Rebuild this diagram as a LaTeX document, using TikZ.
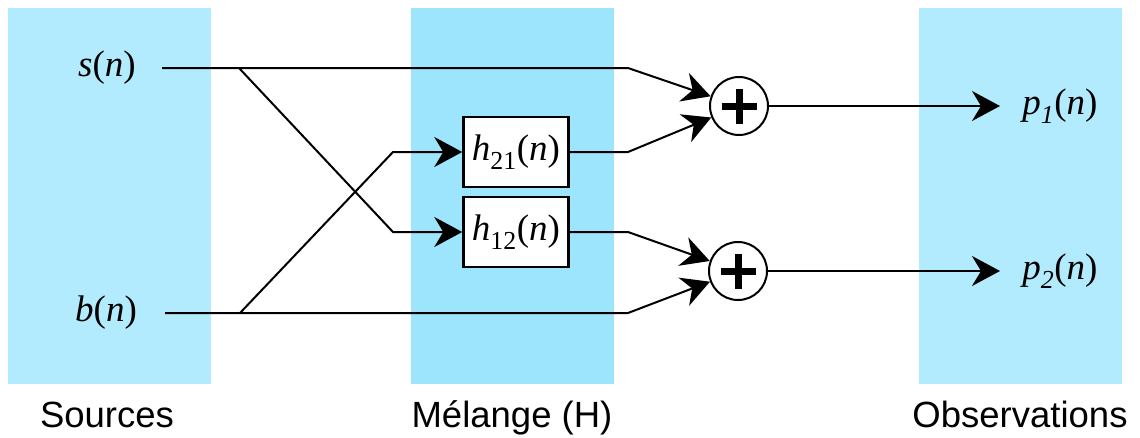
\documentclass[tikz,border=0pt]{standalone}
\usepackage{fontspec}
\setmainfont{Liberation Serif}
\setsansfont{Liberation Sans}
\usetikzlibrary{arrows.meta}

\definecolor{srcblue}{RGB}{178,235,253}
\definecolor{mixblue}{RGB}{156,229,252}

\begin{document}
\begin{tikzpicture}[x=1pt,y=-1pt,line width=2pt,
		fleche/.style={-{Stealth[length=28pt,width=30pt,inset=9pt]}},
		bande/.style={minimum width=203pt,minimum height=376pt,inner sep=0pt},
		filtre/.style={draw,fill=white,line width=2.5pt,minimum width=105pt,minimum height=70pt,inner sep=0pt},
		somme/.style={draw,fill=white,circle,minimum size=58pt,inner sep=0pt},
		signal/.style={font=\fontsize{37}{42}\selectfont},
		titre/.style={font=\sffamily\fontsize{36.5}{42}\selectfont,anchor=base}]
		\useasboundingbox (0,0) rectangle (1140,437);

		% bandes de fond
		\node[bande,fill=srcblue] (sources) at (109.5,196) {};
		\node[bande,fill=mixblue] (melange) at (512,196) {};
		\node[bande,fill=srcblue] (observ) at (1020.5,196) {};
		\node[titre] (tsources) at (107,427) {Sources};
		\node[titre] (tmelange) at (512,427) {Mélange (H)};
		\node[titre] (tobserv) at (1020,427) {Observations};

		% signaux
		\node[signal] (s) at (107,68) {\textit{s}(\textit{n})};
		\node[signal] (b) at (106,313) {\textit{b}(\textit{n})};
		\node[signal] (p1) at (1060,106) {\textit{p}\textsubscript{\itshape 1}(\textit{n})};
		\node[signal] (p2) at (1060,271) {\textit{p}\textsubscript{\itshape 2}(\textit{n})};

		% filtres et sommateurs
		\node[filtre,signal] (h21) at (516,152) {\textit{h}\textsubscript{21}(\textit{n})};
		\node[filtre,signal] (h12) at (516,232) {\textit{h}\textsubscript{12}(\textit{n})};
		\node[somme] (sum1) at (739,106) {};
		\node[somme] (sum2) at (738,271) {};
		\foreach \n in {sum1,sum2} {
			\draw[line width=7pt] ([xshift=-17.5pt]\n.center) -- ([xshift=17.5pt]\n.center);
			\draw[line width=7pt] ([yshift=-17.5pt]\n.center) -- ([yshift=17.5pt]\n.center);
		}

		% points de passage
		\coordinate (s0) at (162,68);
		\coordinate (b0) at (165,313);
		\coordinate (sj) at (239,68);
		\coordinate (bj) at (240,313);
		\coordinate (c21) at (393,152);
		\coordinate (c12) at (393,232);
		\coordinate (sk) at (628,68);
		\coordinate (bk) at (628,313);
		\coordinate (h21k) at (628,152);
		\coordinate (h12k) at (628,232);
		\coordinate (out1) at (1000,106);
		\coordinate (out2) at (1000,271);

		% liaisons
		\draw[fleche] (s0) -- (sk) -- (sum1);
		\draw[fleche] (b0) -- (bk) -- (sum2);
		\draw[fleche] (sj) -- (c12) -- (h12);
		\draw[fleche] (bj) -- (c21) -- (h21);
		\draw[fleche] (h21) -- (h21k) -- (sum1);
		\draw[fleche] (h12) -- (h12k) -- (sum2);
		\draw[fleche] (sum1) -- (out1);
		\draw[fleche] (sum2) -- (out2);
\end{tikzpicture}
\end{document}
